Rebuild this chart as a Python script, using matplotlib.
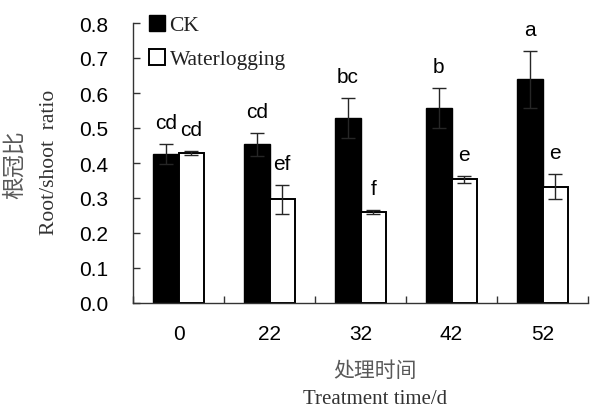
import matplotlib
matplotlib.use("Agg")
import matplotlib.pyplot as plt
import numpy as np

categories = ["0", "22", "32", "42", "52"]
ck_mean = [0.426, 0.453, 0.529, 0.557, 0.639]
ck_err = [0.029, 0.032, 0.057, 0.058, 0.082]
wl_mean = [0.428, 0.296, 0.260, 0.354, 0.332]
wl_err = [0.006, 0.042, 0.007, 0.010, 0.036]
ck_letters = ["cd", "cd", "bc", "b", "a"]
wl_letters = ["cd", "ef", "f", "e", "e"]
yticks = [0.0, 0.1, 0.2, 0.3, 0.4, 0.5, 0.6, 0.7, 0.8]

SANS = "Liberation Sans"
SERIF = "Liberation Serif"
CJK = ["Noto Sans CJK SC", "DejaVu Sans"]

fig = plt.figure(figsize=(5.9, 4.1), dpi=100)
ax = fig.add_axes([133 / 590, 1 - 304 / 410, (588 - 133) / 590, (304 - 24) / 410])

x = np.arange(len(categories))
w = 0.28
err_kw = dict(ecolor="#262626", elinewidth=1.0, capsize=5, capthick=1.0)
b1 = ax.bar(x - w / 2, ck_mean, w, color="black", edgecolor="black", linewidth=1.0,
            yerr=ck_err, error_kw=err_kw, label="CK", zorder=2)
b2 = ax.bar(x + w / 2, wl_mean, w, color="white", edgecolor="black", linewidth=1.4,
            yerr=wl_err, error_kw=err_kw, label="Waterlogging", zorder=2)

for i in range(len(categories)):
    ax.text(x[i] - w / 2, ck_mean[i] + ck_err[i] + 0.045, ck_letters[i], ha="center",
            va="baseline", fontsize=15, family=SANS)
    ax.text(x[i] + w / 2, wl_mean[i] + wl_err[i] + 0.045, wl_letters[i], ha="center",
            va="baseline", fontsize=15, family=SANS)

ax.set_xlim(-0.5, len(categories) - 0.5)
ax.set_ylim(0, 0.8)
ax.set_yticks(yticks)
ax.set_yticklabels([f"{t:.1f}" for t in yticks], fontsize=15, family=SANS)
ax.set_xticks(x)
ax.set_xticklabels(categories, fontsize=15, family=SANS)
ax.set_xticks(np.arange(len(categories) + 1) - 0.5, minor=True)
ax.tick_params(axis="x", which="major", length=0, pad=15)
ax.tick_params(axis="x", which="minor", direction="in", length=5, width=1, color="#333333")
ax.tick_params(axis="y", direction="in", length=5, width=1, color="#333333", pad=18)
for s in ["top", "right"]:
    ax.spines[s].set_visible(False)
for s in ["left", "bottom"]:
    ax.spines[s].set_color("#333333")
    ax.spines[s].set_linewidth(1.0)

leg = ax.legend(handles=[b1, b2], loc="upper left", bbox_to_anchor=(134 / 590, 1 - 1 / 410),
                bbox_transform=fig.transFigure, frameon=False, prop={"family": SERIF, "size": 15.5},
                handlelength=0.75, handleheight=0.75, handletextpad=0.2, labelspacing=0.62,
                borderpad=0.2)
for t in leg.get_texts():
    t.set_color("#222222")

fig.text(14 / 590, 1 - 165 / 410, "根冠比", rotation=90, ha="center", va="center",
         fontsize=16.5, family=CJK, color="#595959")
fig.text(50 / 590, 1 - 162 / 410, "Root/shoot  ratio", rotation=90, ha="center", va="center",
         fontsize=15.5, family=SERIF, color="#333333")
fig.text(375 / 590, 1 - 371 / 410, "处理时间", ha="center", va="center",
         fontsize=15, family=CJK, color="#595959")
fig.text(375 / 590, 1 - 400 / 410, "Treatment time/d", ha="center", va="center",
         fontsize=15, family=SERIF, color="#333333")

fig.savefig("out.png", dpi=100)
